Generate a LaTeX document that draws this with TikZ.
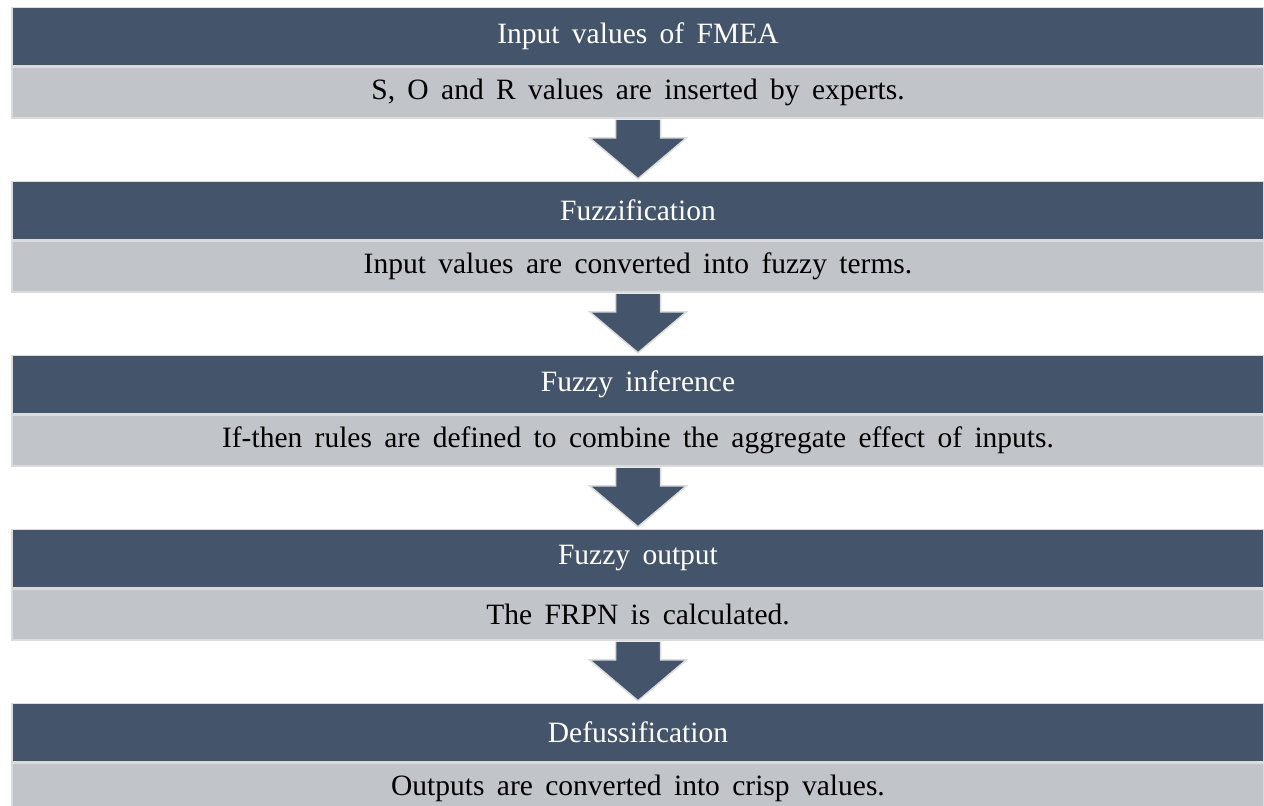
\documentclass[tikz,border=0pt]{standalone}
\usepackage{fontspec}
\setmainfont{Liberation Serif}
\usepackage{tikz}
\usetikzlibrary{positioning,calc}
\usepackage{xcolor}
\definecolor{headblue}{HTML}{44546A}
\definecolor{bodygray}{HTML}{C1C4C9}
\definecolor{edgegray}{HTML}{DADBDD}
\newcommand{\barfont}{\fontsize{29.5}{34}\selectfont\spaceskip=0.42em\relax}

\tikzset{
  headbar/.style={draw=edgegray, line width=1.5pt, fill=headblue, text=white, minimum width=1252pt, minimum height=58pt, inner sep=0pt, font=\barfont},
  bodybar/.style={draw=edgegray, line width=1.5pt, fill=bodygray, text=black, minimum width=1252pt, minimum height=51pt, inner sep=0pt, font=\barfont},
  downarrow/.style={draw=edgegray, line width=1.5pt, fill=headblue, line join=miter}
}

\begin{document}
\begin{tikzpicture}[x=1pt, y=1pt]
    \useasboundingbox (0,0) rectangle (1264,-806);

    % Stage 1
    \node[headbar] (head1) at (638,-36.5) {Input values of FMEA};
    \node[bodybar, below=0pt of head1] (body1) {S, O and R values are inserted by experts.};

    % Stage 2
    \node[headbar, below=62pt of body1] (head2) {Fuzzification};
    \node[bodybar, below=0pt of head2] (body2) {Input values are converted into fuzzy terms.};

    % Stage 3
    \node[headbar, below=62pt of body2] (head3) {Fuzzy inference};
    \node[bodybar, below=0pt of head3] (body3) {If-then rules are defined to combine the aggregate effect of inputs.};

    % Stage 4
    \node[headbar, below=62pt of body3] (head4) {Fuzzy output};
    \node[bodybar, below=0pt of head4] (body4) {The FRPN is calculated.};

    % Stage 5
    \node[headbar, below=62pt of body4] (head5) {Defussification};
    \node[bodybar, below=0pt of head5] (body5) {Outputs are converted into crisp values.};

    % Down arrows
    \draw[downarrow] ($(body1.south)+(-22.5,-1)$) -- ($(body1.south)+(-22.5,-19)$) -- ($(body1.south)+(-48.5,-19)$) -- ($(head2.north)+(0,2)$) -- ($(body1.south)+(48.5,-19)$) -- ($(body1.south)+(22.5,-19)$) -- ($(body1.south)+(22.5,-1)$);
    \draw[downarrow] ($(body2.south)+(-22.5,-1)$) -- ($(body2.south)+(-22.5,-19)$) -- ($(body2.south)+(-48.5,-19)$) -- ($(head3.north)+(0,2)$) -- ($(body2.south)+(48.5,-19)$) -- ($(body2.south)+(22.5,-19)$) -- ($(body2.south)+(22.5,-1)$);
    \draw[downarrow] ($(body3.south)+(-22.5,-1)$) -- ($(body3.south)+(-22.5,-19)$) -- ($(body3.south)+(-48.5,-19)$) -- ($(head4.north)+(0,2)$) -- ($(body3.south)+(48.5,-19)$) -- ($(body3.south)+(22.5,-19)$) -- ($(body3.south)+(22.5,-1)$);
    \draw[downarrow] ($(body4.south)+(-22.5,-1)$) -- ($(body4.south)+(-22.5,-19)$) -- ($(body4.south)+(-48.5,-19)$) -- ($(head5.north)+(0,2)$) -- ($(body4.south)+(48.5,-19)$) -- ($(body4.south)+(22.5,-19)$) -- ($(body4.south)+(22.5,-1)$);
\end{tikzpicture}
\end{document}
